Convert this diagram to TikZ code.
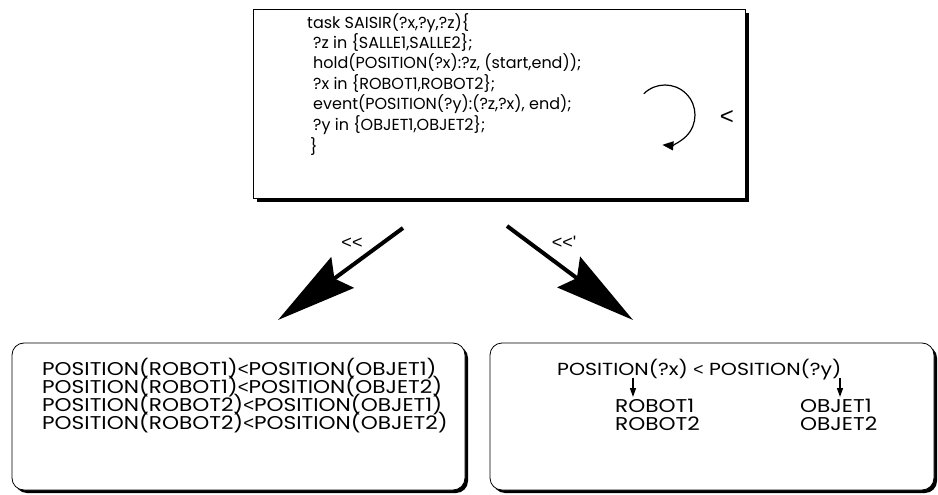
\documentclass[tikz,border=0pt]{standalone}
\usepackage{fontspec}
\setmainfont{Poppins}[Ligatures=NoCommon]
\newfontfamily\widefont{Poppins}[FakeStretch=1.17]
\newfontfamily\ltfont{Liberation Sans}
\newcommand\ltsym{{\ltfont<}}
\usetikzlibrary{arrows.meta}
\begin{document}
\begin{tikzpicture}[x=1pt,y=-1pt,
  txt/.style={anchor=base west,inner sep=0pt,font=\fontsize{16}{18}\selectfont},
  wtxt/.style={anchor=base west,inner sep=0pt,font=\widefont\fontsize{18.5}{18}\selectfont},
  lbl/.style={inner sep=0pt,font=\ltfont\fontsize{18}{18}\selectfont},
  bigarrow/.style={line width=4pt,-{Stealth[length=80pt,width=38pt,inset=10pt]}},
  smallarrow/.style={line width=1.4pt,-{Triangle[length=9pt,width=6pt]}},
  shadowbox/.style={fill=black},
  box/.style={draw=black,line width=0.8pt,fill=white}]
\useasboundingbox (0,0) rectangle (938,495);
% top box
\fill[shadowbox] (257,13) rectangle (749,202);
\draw[box] (253,9) rectangle (745,198);
\node[txt] (t1) at (307,29) {task SAISIR(?x,?y,?z)\{};
\node[txt] (t2) at (313,49) {?z in \{SALLE1,SALLE2\};};
\node[txt] (t3) at (313,69) {hold(POSITION(?x):?z, (start,end));};
\node[txt] (t4) at (313,89) {?x in \{ROBOT1,ROBOT2\};};
\node[txt] (t5) at (313,110) {event(POSITION(?y):(?z,?x), end);};
\node[txt] (t6) at (313,131) {?y in \{OBJET1,OBJET2\};};
\node[txt] (t7) at (310,152) {\}};
\draw[line width=1.2pt,-{Triangle[length=11pt,width=9pt]}] (665,115) ++(225:30) arc[start angle=225,end angle=455,radius=30];
\node[lbl,font=\ltfont\fontsize{24}{24}\selectfont] (lt) at (727,118) {<};
% big arrows
\coordinate (a1s) at (403,228);
\coordinate (a1e) at (278,320);
\coordinate (a2s) at (507,226);
\coordinate (a2e) at (633,320);
\draw[bigarrow] (a1s) -- (a1e);
\draw[bigarrow] (a2s) -- (a2e);
\node[lbl] (l1) at (352,243) {<{}<};
\node[lbl] (l2) at (564,242) {<{}<'};
% bottom left box
\fill[shadowbox,rounded corners=12pt] (15,346) rectangle (468,493);
\draw[box,rounded corners=12pt] (12,343) rectangle (465,490);
\node[wtxt] (b1) at (42,375) {POSITION(ROBOT1)\ltsym POSITION(OBJET1)};
\node[wtxt] (b2) at (42,393) {POSITION(ROBOT1)\ltsym POSITION(OBJET2)};
\node[wtxt] (b3) at (42,411) {POSITION(ROBOT2)\ltsym POSITION(OBJET1)};
\node[wtxt] (b4) at (42,429) {POSITION(ROBOT2)\ltsym POSITION(OBJET2)};
% bottom right box
\fill[shadowbox,rounded corners=12pt] (493,346) rectangle (937,493);
\draw[box,rounded corners=12pt] (490,343) rectangle (934,490);
\node[wtxt,font=\widefont\fontsize{17.5}{18}\selectfont] (r1) at (557,375) {POSITION(?x) \ltsym{} POSITION(?y)};
\node[wtxt] (r2) at (615,412) {ROBOT1};
\node[wtxt] (r3) at (615,430) {ROBOT2};
\node[wtxt] (r4) at (800,412) {OBJET1};
\node[wtxt] (r5) at (800,430) {OBJET2};
\coordinate (s1a) at (633,378);
\coordinate (s1b) at (633,397);
\coordinate (s2a) at (840,378);
\coordinate (s2b) at (840,397);
\draw[smallarrow] (s1a) -- (s1b);
\draw[smallarrow] (s2a) -- (s2b);
\end{tikzpicture}
\end{document}
